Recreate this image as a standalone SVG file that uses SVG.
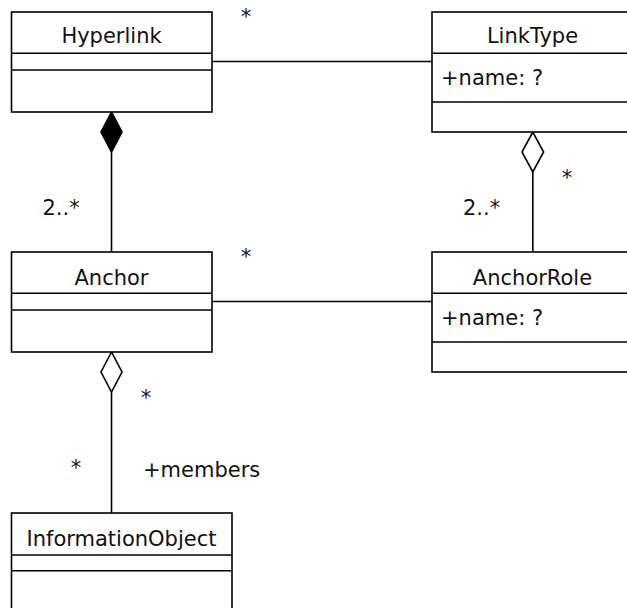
<svg xmlns="http://www.w3.org/2000/svg" width="627" height="608" viewBox="0 0 627 608">
<style>
.box{fill:#fff;stroke:#000;stroke-width:1.6}
.sep{stroke:#000;stroke-width:1.6}
.ln{stroke:#000;stroke-width:1.6;fill:none}
text{font-family:"DejaVu Sans","Liberation Sans",sans-serif;font-size:21px;fill:#111}
.c{text-anchor:middle}
</style>
<rect width="627" height="608" fill="#fff"/>
<g id="connectors">
<line class="ln" x1="212" y1="61.5" x2="432" y2="61.5"/>
<line class="ln" x1="212" y1="301.5" x2="432" y2="301.5"/>
<polygon points="111.5,112 101,132 111.5,152 122,132" fill="#000" stroke="#000" stroke-width="1.6"/>
<line class="ln" x1="111.5" y1="152" x2="111.5" y2="252"/>
<polygon points="532.8,132 522,152 532.8,172 543.6,152" fill="#fff" stroke="#000" stroke-width="1.6"/>
<line class="ln" x1="532.8" y1="172" x2="532.8" y2="252"/>
<polygon points="111.5,352 101,372 111.5,392 122,372" fill="#fff" stroke="#000" stroke-width="1.6"/>
<line class="ln" x1="111.5" y1="392" x2="111.5" y2="513"/>
<text class="c" x="246" y="23.5">*</text>
<text x="42.5" y="215">2..*</text>
<text x="463" y="215">2..*</text>
<text class="c" x="567" y="185">*</text>
<text class="c" x="246" y="263.5">*</text>
<text class="c" x="146" y="405">*</text>
<text class="c" x="76" y="475">*</text>
<text x="143" y="476.5">+members</text>
</g>
<g id="Hyperlink">
<rect class="box" x="11.5" y="12" width="200.5" height="100"/>
<line class="sep" x1="11.5" y1="53.3" x2="212" y2="53.3"/>
<line class="sep" x1="11.5" y1="70" x2="212" y2="70"/>
<text class="c" x="111.5" y="43">Hyperlink</text>
</g>
<g id="LinkType">
<rect class="box" x="432" y="12" width="210" height="120"/>
<line class="sep" x1="432" y1="53.3" x2="642" y2="53.3"/>
<line class="sep" x1="432" y1="102" x2="642" y2="102"/>
<text class="c" x="532.5" y="43">LinkType</text>
<text x="441" y="85">+name: ?</text>
</g>
<g id="Anchor">
<rect class="box" x="11.5" y="252" width="200.5" height="100"/>
<line class="sep" x1="11.5" y1="293.3" x2="212" y2="293.3"/>
<line class="sep" x1="11.5" y1="310" x2="212" y2="310"/>
<text class="c" x="111.5" y="284.5">Anchor</text>
</g>
<g id="AnchorRole">
<rect class="box" x="432" y="252" width="210" height="120"/>
<line class="sep" x1="432" y1="293.3" x2="642" y2="293.3"/>
<line class="sep" x1="432" y1="342" x2="642" y2="342"/>
<text class="c" x="532.5" y="284.5">AnchorRole</text>
<text x="441" y="325">+name: ?</text>
</g>
<g id="InformationObject">
<rect class="box" x="11.5" y="513" width="220.5" height="110"/>
<line class="sep" x1="11.5" y1="555" x2="232" y2="555"/>
<line class="sep" x1="11.5" y1="570.7" x2="232" y2="570.7"/>
<text class="c" x="121.5" y="545.5">InformationObject</text>
</g>
</svg>
